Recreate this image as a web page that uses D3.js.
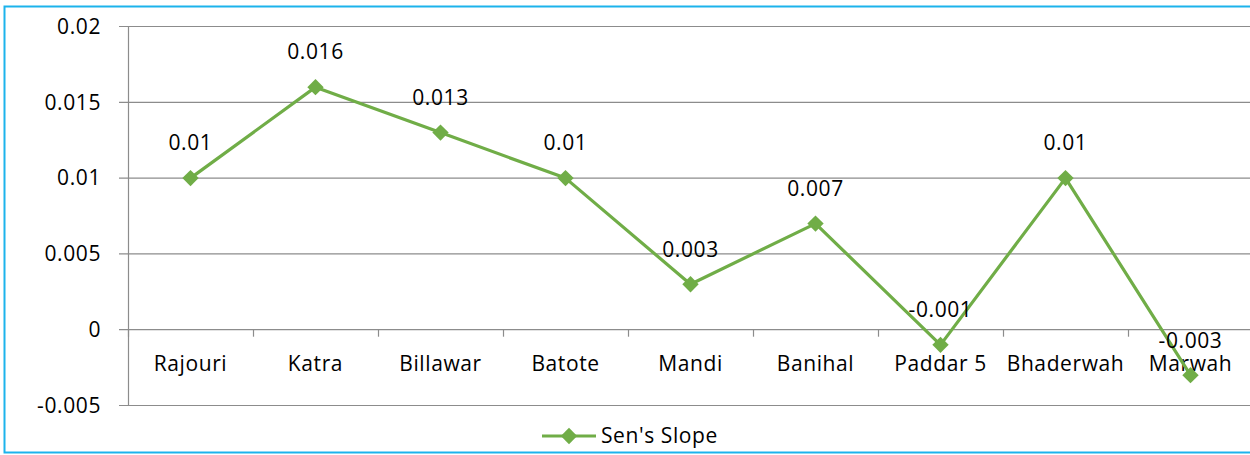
<!DOCTYPE html>
<html>
<head>
<meta charset="utf-8">
<script src="https://cdn.jsdelivr.net/npm/d3@7"></script>
<style>
  html, body { margin: 0; padding: 0; background: #fff; }
  svg text { font-family: "Open Sans", "Noto Sans", sans-serif; fill: #000; }
</style>
</head>
<body>
<div id="chart"></div>
<script>
// chart data
const stations = ["Rajouri", "Katra", "Billawar", "Batote", "Mandi", "Banihal", "Paddar 5", "Bhaderwah", "Marwah"];
const sensSlope = [0.01, 0.016, 0.013, 0.01, 0.003, 0.007, -0.001, 0.01, -0.003];
const yTicks = [-0.005, 0, 0.005, 0.01, 0.015, 0.02];
const seriesName = "Sen's Slope";

const width = 1250;
const height = 455;
const green = "#70ad47";

const svg = d3.select("#chart")
    .append("svg")
    .attr("width", width)
    .attr("height", height);

// outer frame (right edge falls outside the picture)
svg.append("rect")
    .attr("x", 4.5).attr("y", 6.5)
    .attr("width", 1260).attr("height", 446)
    .attr("fill", "none")
    .attr("stroke", "#1cb3ec")
    .attr("stroke-width", 2);

const plotLeft = 128, plotRight = 1253;
const x = d3.scaleBand().domain(stations).range([plotLeft, plotRight]);
const y = d3.scaleLinear().domain([-0.005, 0.02]).range([405.5, 26.5]);

// plain hyphen minus, as in the source
const fmt = d => String(+d.toFixed(3));

// gridlines + y labels
svg.append("g").selectAll("line")
    .data(yTicks)
    .enter().append("line")
    .attr("x1", 119).attr("x2", plotRight)
    .attr("y1", d => y(d)).attr("y2", d => y(d))
    .attr("stroke", "#8c8c8c")
    .attr("stroke-width", 1.2);

svg.append("g").selectAll("text")
    .data(yTicks)
    .enter().append("text")
    .attr("x", 101)
    .attr("y", d => y(d))
    .attr("dy", "0.35em")
    .attr("text-anchor", "end")
    .style("font-size", "21px")
    .style("letter-spacing", "0.6px")
    .text(fmt);

// y axis line
svg.append("line")
    .attr("x1", plotLeft + 0.5).attr("x2", plotLeft + 0.5)
    .attr("y1", y(0.02)).attr("y2", y(-0.005))
    .attr("stroke", "#8c8c8c")
    .attr("stroke-width", 1.2);

// x ticks at band boundaries on the zero line
const boundaries = stations.map(s => x(s)).concat([plotRight]);
svg.append("g").selectAll("line")
    .data(boundaries)
    .enter().append("line")
    .attr("x1", d => d + 0.5).attr("x2", d => d + 0.5)
    .attr("y1", y(0)).attr("y2", y(0) + 7)
    .attr("stroke", "#8c8c8c")
    .attr("stroke-width", 1.2);

// category labels
svg.append("g").selectAll("text")
    .data(stations)
    .enter().append("text")
    .attr("x", d => x(d) + x.bandwidth() / 2)
    .attr("y", 364)
    .attr("dy", "0.35em")
    .attr("text-anchor", "middle")
    .style("font-size", "21px")
    .style("letter-spacing", "0.6px")
    .text(d => d);

// series line
const line = d3.line()
    .x((d, i) => x(stations[i]) + x.bandwidth() / 2)
    .y(d => y(d));

svg.append("path")
    .datum(sensSlope)
    .attr("fill", "none")
    .attr("stroke", green)
    .attr("stroke-width", 3.2)
    .attr("stroke-linejoin", "round")
    .attr("d", line);

const diamond = d3.symbol().type(d3.symbolDiamond2).size(170);

svg.append("g").selectAll("path")
    .data(sensSlope)
    .enter().append("path")
    .attr("transform", (d, i) => `translate(${x(stations[i]) + x.bandwidth() / 2},${y(d)})`)
    .attr("d", diamond)
    .attr("fill", green);

// data labels
svg.append("g").selectAll("text")
    .data(sensSlope)
    .enter().append("text")
    .attr("x", (d, i) => x(stations[i]) + x.bandwidth() / 2)
    .attr("y", d => y(d) - 35)
    .attr("dy", "0.35em")
    .attr("text-anchor", "middle")
    .style("font-size", "21px")
    .style("letter-spacing", "0.6px")
    .text(fmt);

// legend
const legend = svg.append("g").attr("transform", "translate(542,436)");
legend.append("line")
    .attr("x1", 0).attr("x2", 54)
    .attr("stroke", green)
    .attr("stroke-width", 3.2);
legend.append("path")
    .attr("transform", "translate(27,0)")
    .attr("d", diamond)
    .attr("fill", green);
legend.append("text")
    .attr("x", 59)
    .attr("dy", "0.35em")
    .style("font-size", "21px")
    .style("letter-spacing", "0.6px")
    .text(seriesName);
</script>
</body>
</html>
